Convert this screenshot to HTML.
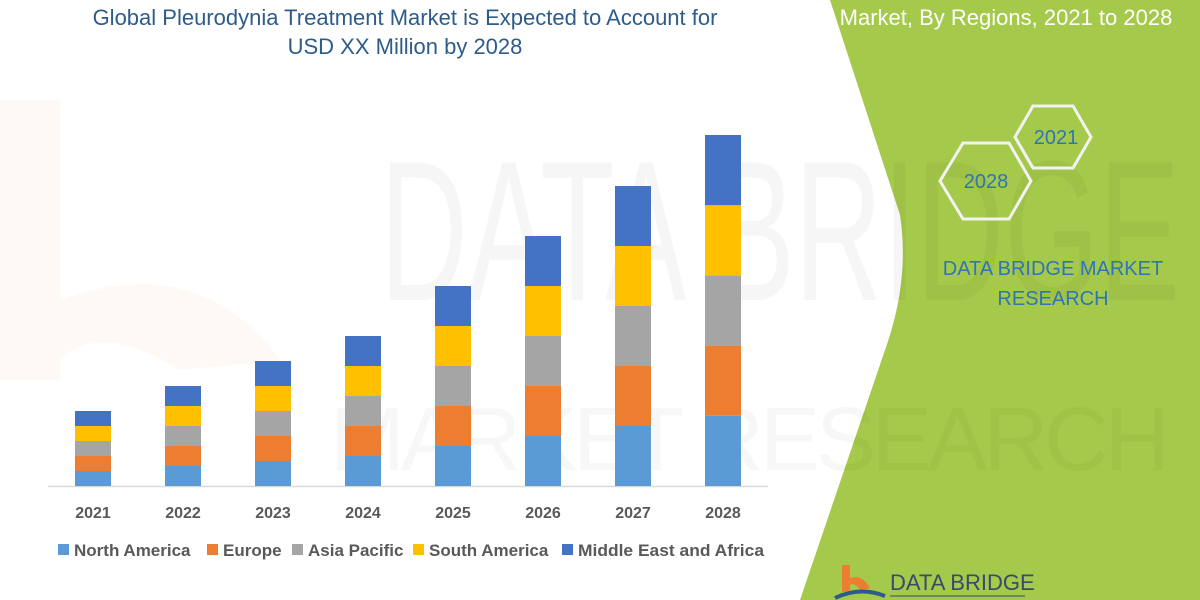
<!DOCTYPE html>
<html><head><meta charset="utf-8"><style>
html,body{margin:0;padding:0;background:#fff;}
body{width:1200px;height:600px;overflow:hidden;position:relative;font-family:"Liberation Sans",sans-serif;}
</style></head><body>
<svg width="1200" height="600" viewBox="0 0 1200 600" xmlns="http://www.w3.org/2000/svg" style="position:absolute;left:0;top:0">
<path d="M0 100 L60 100 L60 300 Q200 250 280 360 L180 370 Q100 320 60 360 L60 380 L0 380Z" fill="#f4b183" fill-opacity="0.08"/>
<!-- green panel -->
<path d="M830 0 L1200 0 L1200 600 L800 600 L885 350 Q910 280 900 215 Z" fill="#a5c94a"/>
<!-- faint watermark -->
<text x="380" y="300" font-size="200" fill="#000" fill-opacity="0.035" font-family="Liberation Sans" textLength="800" lengthAdjust="spacingAndGlyphs">DATA BRIDGE</text>
<text x="330" y="470" font-size="90" fill="#000" fill-opacity="0.03" font-family="Liberation Sans" textLength="840" lengthAdjust="spacing">MARKET RESEARCH</text>
<!-- title -->
<g font-family="Liberation Sans" font-size="22" fill="#2e5c8a" text-anchor="middle">
<text x="405" y="25">Global Pleurodynia Treatment Market is Expected to Account for</text>
<text x="405" y="54">USD XX Million by 2028</text>
</g>
<text x="1006" y="25" font-family="Liberation Sans" font-size="22" fill="#fff" text-anchor="middle">Market, By Regions, 2021 to 2028</text>
<!-- hexagons -->
<polygon points="1033,106 1073,106 1091,137 1073,168 1033,168 1015,137" fill="none" stroke="#f2f2f2" stroke-width="3"/>
<polygon points="963,143 1009,143 1031,181 1009,219 963,219 940,181" fill="none" stroke="#f2f2f2" stroke-width="3"/>
<text x="1056" y="144" font-size="20" fill="#2e75b6" text-anchor="middle" font-family="Liberation Sans">2021</text>
<text x="986" y="188" font-size="20" fill="#2e75b6" text-anchor="middle" font-family="Liberation Sans">2028</text>
<text x="1053" y="275" font-size="20" fill="#2e75b6" text-anchor="middle" font-family="Liberation Sans">DATA BRIDGE MARKET</text>
<text x="1053" y="305" font-size="20" fill="#2e75b6" text-anchor="middle" font-family="Liberation Sans">RESEARCH</text>
<!-- logo -->
<path d="M842 565 L850 565 L850 578 Q862 574 870 588 L860 590 Q855 582 850 585 L850 592 L842 592Z" fill="#ed7d31"/>
<path d="M835 598 Q860 586 885 596" stroke="#2e5c8a" stroke-width="4" fill="none"/>
<text x="890" y="590" font-size="22" fill="#3a4a6a" font-family="Liberation Sans">DATA BRIDGE</text>
<line x1="890" y1="596" x2="1025" y2="596" stroke="#3a4a6a" stroke-width="1"/>
<!-- axis -->
<line x1="48" y1="486.5" x2="768" y2="486.5" stroke="#d9d9d9" stroke-width="1.5"/>
<g id="bars"></g>
<g font-family="Liberation Sans" font-size="16" font-weight="bold" fill="#595959" text-anchor="middle">
<text x="93" y="518">2021</text><text x="183" y="518">2022</text><text x="273" y="518">2023</text><text x="363" y="518">2024</text>
<text x="453" y="518">2025</text><text x="543" y="518">2026</text><text x="633" y="518">2027</text><text x="723" y="518">2028</text>
</g>
<!-- legend -->
<g font-family="Liberation Sans" font-size="17" font-weight="bold" fill="#595959">
<rect x="58" y="544" width="11" height="11" fill="#5b9bd5"/><text x="74" y="556">North America</text>
<rect x="207" y="544" width="11" height="11" fill="#ed7d31"/><text x="223" y="556">Europe</text>
<rect x="292" y="544" width="11" height="11" fill="#a5a5a5"/><text x="308" y="556">Asia Pacific</text>
<rect x="413" y="544" width="11" height="11" fill="#ffc000"/><text x="429" y="556">South America</text>
<rect x="562" y="544" width="11" height="11" fill="#4472c4"/><text x="578" y="556" textLength="186" lengthAdjust="spacingAndGlyphs">Middle East and Africa</text>
</g>
</svg>
<script>
var g=document.getElementById('bars');var cols=['#5b9bd5','#ed7d31','#a5a5a5','#ffc000','#4472c4'];
var h=[15,20,25,30,40,50,60,70.2];
for(var i=0;i<8;i++){var x=75+90*i;for(var s=0;s<5;s++){var y=486-h[i]*(s+1);
var r=document.createElementNS('http://www.w3.org/2000/svg','rect');r.setAttribute('x',x);r.setAttribute('y',y);r.setAttribute('width',36);r.setAttribute('height',h[i]);r.setAttribute('fill',cols[s]);g.appendChild(r);}}
</script>
</body></html>
